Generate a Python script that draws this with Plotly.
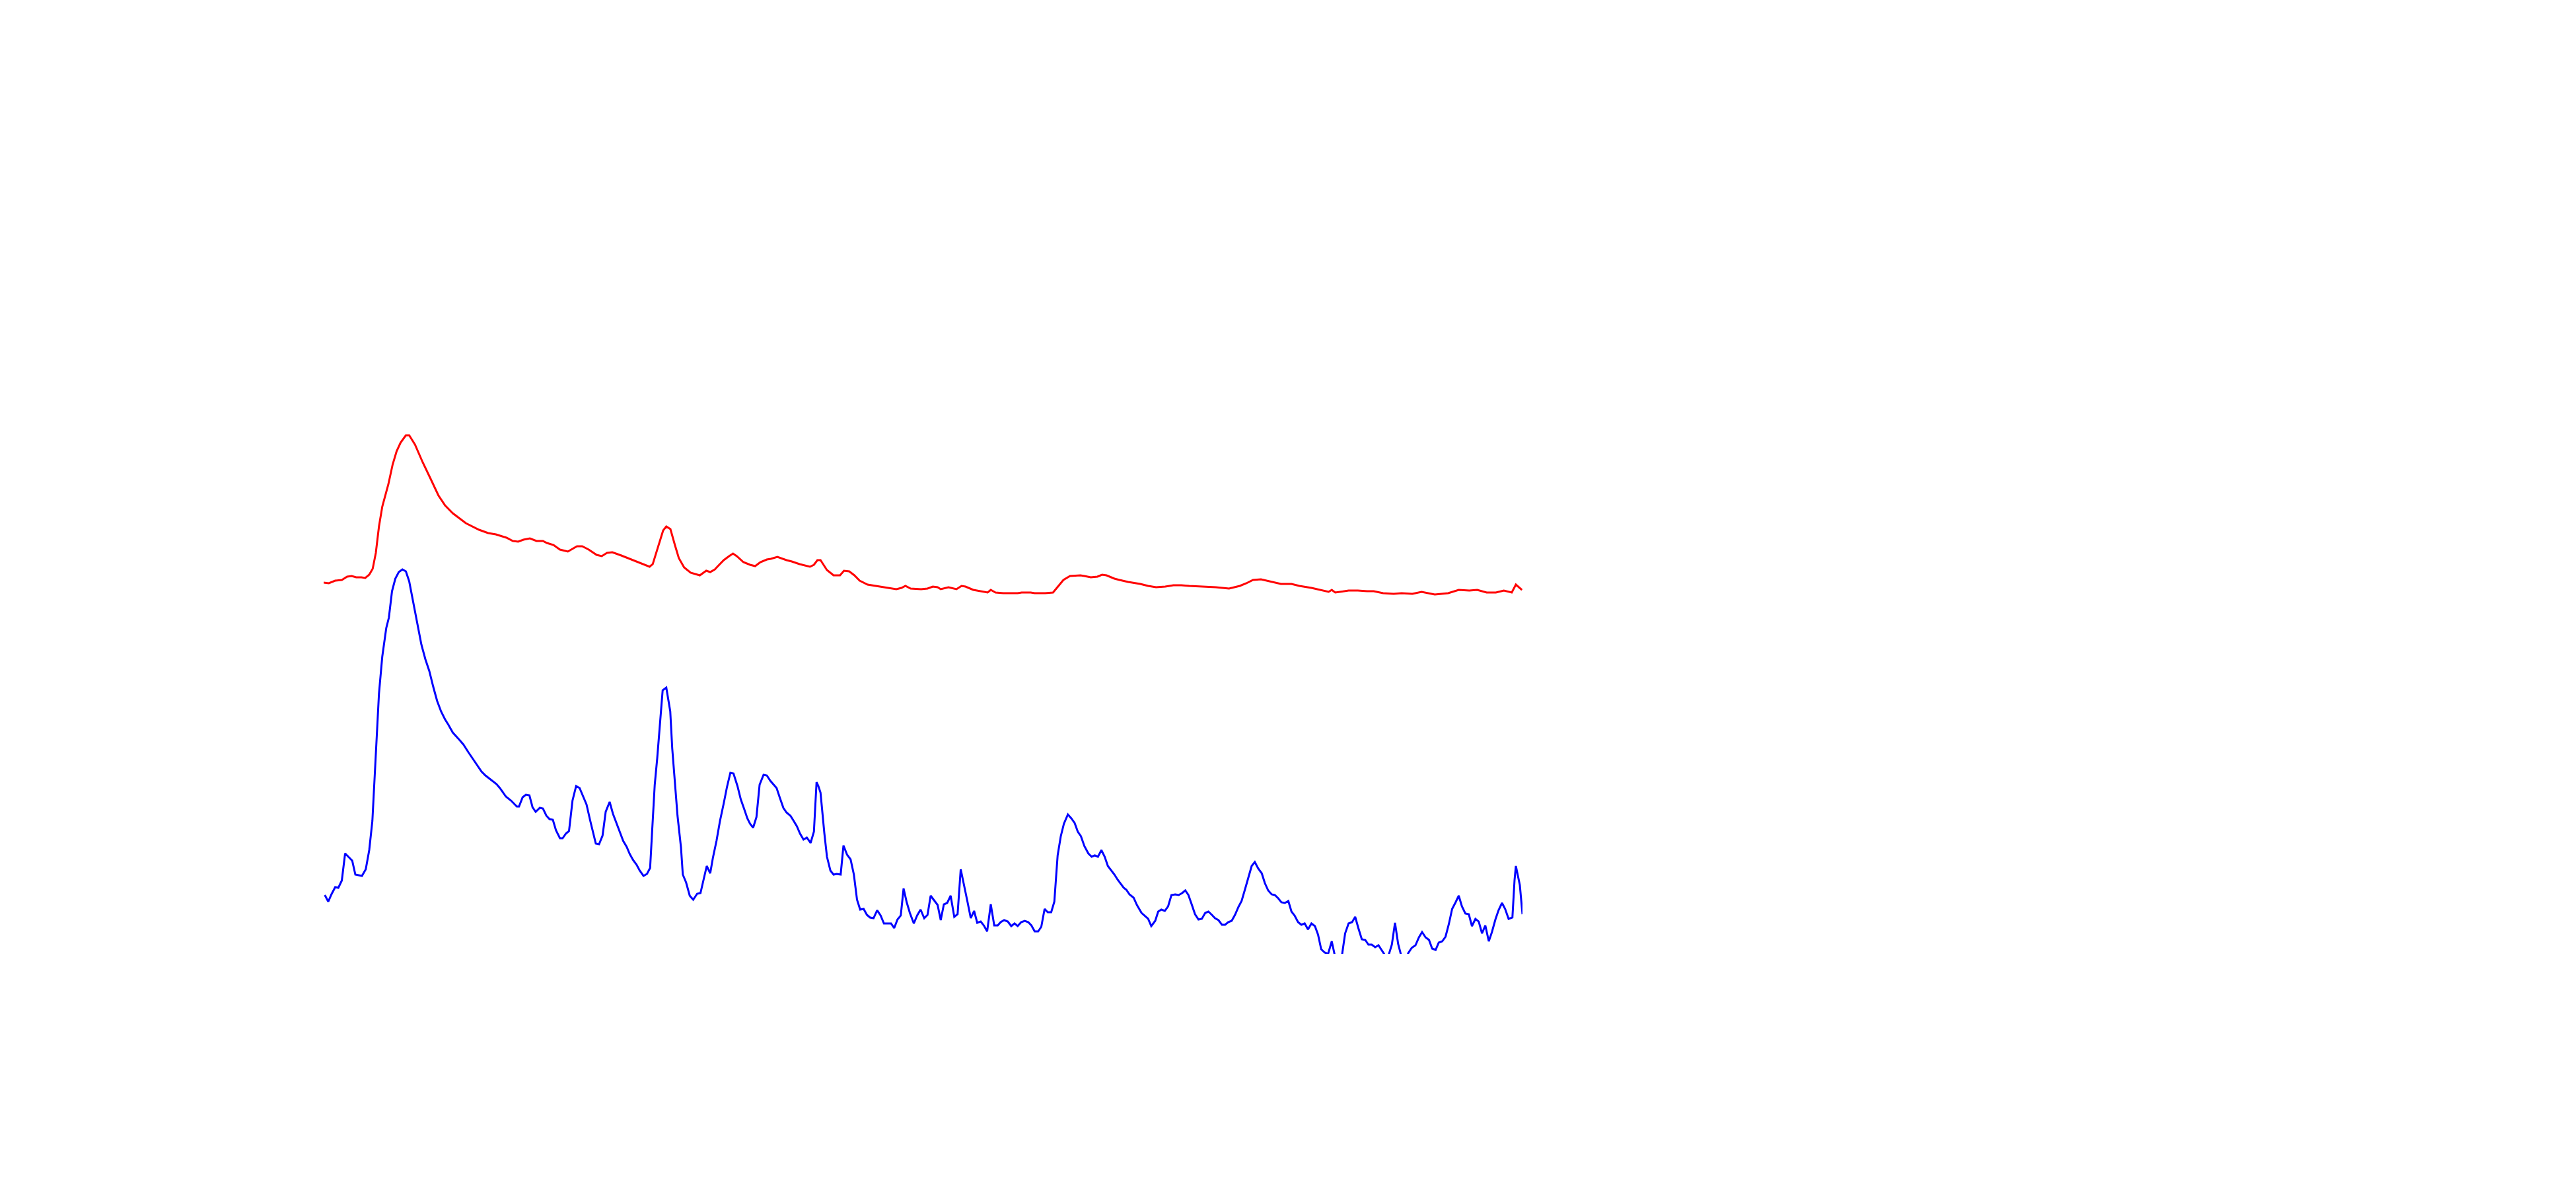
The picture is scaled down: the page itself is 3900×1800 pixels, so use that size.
import plotly.graph_objects as go

# Red pattern: 2-theta (deg) and intensity (a.u.)
red_2theta = [5.0, 5.31, 5.70, 6.10, 6.42, 6.70, 6.97, 7.29, 7.52, 7.76, 7.97, 8.16, 8.35, 8.55, 8.92, 9.18, 9.42, 9.66, 9.98, 10.18,
              10.53, 11.0, 11.48, 11.95, 12.35, 12.82, 13.61, 14.41, 14.96, 15.43, 16.07, 16.46, 16.78, 17.1, 17.49, 17.89, 18.28, 18.52, 18.92, 19.31,
              19.79, 20.02, 20.34, 20.66, 21.05, 21.53, 21.84, 22.16, 22.48, 23.03, 23.82, 24.3, 24.74, 24.93, 25.24, 25.56, 25.75, 26.0, 26.27, 26.51,
              26.83, 27.22, 27.78, 28.17, 28.41, 28.69, 28.84, 29.23, 29.55, 29.79, 30.02, 30.42, 30.82, 31.13, 31.45, 31.84, 32.08, 32.48, 33.03, 33.35,
              33.82, 34.45, 34.69, 34.9, 35.09, 35.48, 35.88, 36.27, 36.51, 36.83, 37.14, 37.46, 37.94, 38.73, 39.68, 39.99, 40.23, 40.55, 41.18, 41.57,
              41.89, 42.18, 42.37, 42.84, 43.32, 43.63, 43.87, 44.34, 45.21, 45.4, 45.69, 46.16, 47.03, 47.27, 47.82, 48.06, 48.69, 49.17, 49.49, 49.8,
              50.2, 50.83, 51.07, 51.46, 51.86, 52.14, 52.41, 52.89, 53.2, 53.72, 54.45, 54.93, 55.41, 55.97, 56.46, 56.94, 57.42, 58.31, 59.03, 59.83,
              60.48, 60.88, 61.28, 61.76, 62.41, 62.97, 63.61, 64.09, 64.82, 65.3, 65.86, 66.05, 66.26, 67.07, 67.63, 68.19, 68.59, 69.16, 69.8, 70.28,
              70.93, 71.49, 72.29, 73.1, 73.74, 74.38, 74.86, 75.43, 75.99, 76.47, 76.95, 77.2, 77.57]
red_intensity = [562, 561, 565, 566, 571, 572, 570, 570, 569, 574, 583, 607, 647, 677, 711, 741, 761, 774, 785, 785,
                 771, 744, 719, 694, 679, 667, 652, 642, 637, 635, 630, 625, 624, 627, 629, 625, 625, 622, 619, 612,
                 609, 612, 617, 617, 612, 604, 602, 607, 608, 603, 595, 590, 586, 590, 616, 641, 647, 643, 619, 599,
                 585, 577, 573, 580, 578, 582, 586, 596, 602, 606, 602, 593, 589, 587, 593, 597, 598, 601, 596, 594,
                 590, 586, 589, 596, 596, 581, 573, 573, 580, 579, 573, 565, 559, 556, 552, 554, 557, 553, 552, 553,
                 556, 555, 552, 555, 552, 557, 556, 551, 547, 551, 547, 546, 546, 547, 547, 546, 546, 547, 557, 566,
                 572, 573, 572, 570, 571, 574, 573, 568, 566, 563, 560, 557, 555, 556, 558, 558, 557, 556, 555, 553,
                 557, 561, 566, 567, 563, 560, 560, 557, 554, 551, 548, 551, 547, 550, 550, 549, 549, 546, 545, 546,
                 545, 548, 544, 546, 551, 550, 551, 547, 547, 550, 547, 559, 551]

# Blue pattern: 2-theta (deg) and intensity (a.u.)
blue_2theta = [5.07, 5.28, 5.47, 5.7, 5.89, 6.1, 6.3, 6.73, 6.92, 7.32, 7.55, 7.76, 7.95, 8.08, 8.35, 8.55, 8.79, 8.95, 9.14, 9.34,
               9.55, 9.77, 9.98, 10.18, 10.45, 10.69, 10.92, 11.16, 11.4, 11.64, 11.87, 12.11, 12.35, 12.55, 12.82, 13.22, 13.46, 13.77, 14.17, 14.56,
               14.8, 15.12, 15.47, 15.67, 16.04, 16.35, 16.7, 16.83, 17.05, 17.25, 17.46, 17.65, 17.84, 18.09, 18.28, 18.49, 18.68, 18.88, 19.07, 19.31,
               19.47, 19.67, 19.86, 20.07, 20.29, 20.5, 20.69, 20.92, 21.13, 21.32, 21.48, 21.68, 21.89, 22.08, 22.32, 22.52, 22.71, 22.95, 23.14, 23.35,
               23.54, 23.74, 23.95, 24.14, 24.37, 24.58, 24.77, 24.9, 25.05, 25.2, 25.37, 25.53, 25.75, 25.99, 26.11, 26.27, 26.43, 26.64, 26.75, 26.95,
               27.17, 27.38, 27.62, 27.82, 28.01, 28.2, 28.41, 28.57, 28.79, 29.0, 29.23, 29.42, 29.63, 29.82, 30.06, 30.26, 30.47, 30.66, 30.82, 31.01,
               31.21, 31.4, 31.64, 31.84, 32.05, 32.24, 32.43, 32.63, 32.84, 33.03, 33.27, 33.47, 33.66, 33.85, 34.06, 34.26, 34.49, 34.69, 34.85, 34.96,
               35.09, 35.32, 35.48, 35.69, 35.88, 36.07, 36.31, 36.48, 36.7, 36.91, 37.11, 37.3, 37.49, 37.7, 37.9, 38.09, 38.3, 38.52, 38.73, 38.93,
               39.17, 39.36, 39.55, 39.75, 39.95, 40.12, 40.31, 40.5, 40.74, 40.94, 41.15, 41.37, 41.57, 41.76, 41.97, 42.18, 42.37, 42.56, 42.76, 42.97,
               43.19, 43.39, 43.58, 43.79, 43.98, 44.19, 44.39, 44.58, 44.79, 44.98, 45.18, 45.4, 45.61, 45.82, 46.0, 46.21, 46.43, 46.64, 46.84, 47.03,
               47.24, 47.46, 47.67, 47.86, 48.06, 48.27, 48.46, 48.66, 48.85, 49.06, 49.25, 49.36, 49.45, 49.64, 49.83, 50.07, 50.28, 50.48, 50.67, 50.86,
               51.07, 51.31, 51.51, 51.7, 51.89, 52.1, 52.3, 52.49, 52.7, 52.89, 53.09, 53.28, 53.45, 53.61, 53.8, 54.05, 54.25, 54.53, 54.77, 54.93,
               55.12, 55.36, 55.54, 55.73, 55.94, 56.14, 56.34, 56.57, 56.78, 56.99, 57.18, 57.37, 57.58, 57.77, 57.98, 58.18, 58.39, 58.58, 58.79, 58.98,
               59.19, 59.4, 59.59, 59.78, 59.99, 60.19, 60.4, 60.59, 60.8, 60.99, 61.2, 61.39, 61.6, 61.81, 62.0, 62.2, 62.41, 62.6, 62.81, 63.0,
               63.21, 63.42, 63.61, 63.8, 64.01, 64.21, 64.41, 64.61, 64.82, 65.03, 65.22, 65.41, 65.62, 65.83, 66.05, 66.23, 66.42, 66.67, 66.86, 67.07,
               67.28, 67.47, 67.66, 67.87, 68.08, 68.27, 68.47, 68.68, 68.88, 69.08, 69.27, 69.48, 69.69, 69.88, 70.07, 70.28, 70.49, 70.68, 70.89, 71.12,
               71.33, 71.52, 71.73, 71.94, 72.13, 72.34, 72.53, 72.74, 72.94, 73.14, 73.34, 73.55, 73.74, 73.93, 74.14, 74.35, 74.54, 74.75, 74.95, 75.15,
               75.35, 75.56, 75.75, 75.96, 76.15, 76.36, 76.55, 76.76, 76.99, 77.12, 77.2, 77.44, 77.6]
blue_intensity = [89, 79, 90, 101, 100, 111, 152, 141, 120, 118, 128, 157, 201, 268, 394, 450, 493, 509, 549, 568,
                  578, 582, 579, 564, 529, 497, 468, 446, 428, 404, 383, 367, 355, 347, 335, 324, 317, 305, 290, 276,
                  270, 264, 257, 251, 238, 232, 223, 223, 237, 241, 240, 222, 215, 221, 220, 209, 204, 203, 187, 175,
                  175, 182, 186, 232, 254, 251, 240, 226, 203, 182, 167, 166, 179, 215, 230, 212, 199, 184, 171, 162,
                  151, 142, 135, 126, 118, 121, 130, 189, 256, 296, 351, 399, 403, 367, 311, 256, 209, 161, 120, 108,
                  88, 82, 91, 92, 112, 133, 122, 145, 171, 201, 228, 252, 274, 273, 254, 234, 219, 205, 197, 191,
                  207, 256, 271, 270, 262, 257, 251, 236, 221, 214, 209, 201, 193, 182, 173, 176, 168, 185, 260, 254,
                  244, 183, 147, 126, 120, 121, 120, 164, 150, 143, 120, 82, 67, 68, 59, 55, 54, 66, 58, 46,
                  46, 46, 39, 52, 58, 99, 78, 62, 46, 58, 67, 54, 59, 88, 81, 74, 51, 75, 77, 88,
                  56, 60, 128, 104, 80, 54, 65, 47, 49, 43, 34, 75, 43, 43, 48, 51, 49, 42, 46, 42,
                  48, 50, 48, 43, 34, 34, 41, 68, 63, 63, 79, 118, 149, 178, 197, 211, 205, 198, 185, 178,
                  163, 152, 147, 149, 147, 157, 147, 133, 126, 120, 112, 105, 100, 97, 90, 85, 74, 62, 57, 53,
                  42, 50, 64, 67, 65, 72, 89, 90, 89, 92, 96, 89, 74, 60, 52, 53, 62, 64, 59, 54,
                  51, 44, 44, 48, 50, 59, 71, 80, 98, 114, 133, 139, 129, 122, 107, 96, 90, 89, 84, 78,
                  77, 80, 64, 58, 48, 44, 46, 37, 46, 42, 29, 7, 2, 0, 19, -2, -2, -2, 31, 46,
                  48, 56, 39, 22, 21, 14, 14, 10, 13, 5, -2, -3, 14, 47, 15, -5, -15, 1, 9, 13,
                  25, 33, 25, 21, 8, 6, 17, 19, 26, 45, 68, 78, 88, 72, 61, 60, 42, 53, 49, 31,
                  43, 19, 33, 52, 66, 77, 68, 53, 55, 112, 133, 104, 60]

fig = go.Figure()
fig.add_trace(go.Scatter(x=red_2theta, y=red_intensity, mode="lines",
                         line=dict(color="#ff0000", width=3), name="red"))
fig.add_trace(go.Scatter(x=blue_2theta, y=blue_intensity, mode="lines",
                         line=dict(color="#0000ff", width=3), name="blue"))

# page body adds an 8 px offset; margins compensate for it
fig.update_layout(
    width=3900, height=1800,
    margin=dict(l=482, r=1603, t=636, b=364),
    paper_bgcolor="white", plot_bgcolor="white",
    showlegend=False,
)
fig.update_xaxes(range=[5, 77.6], visible=False)
fig.update_yaxes(range=[0, 800], visible=False)

fig.write_html("out.html")
